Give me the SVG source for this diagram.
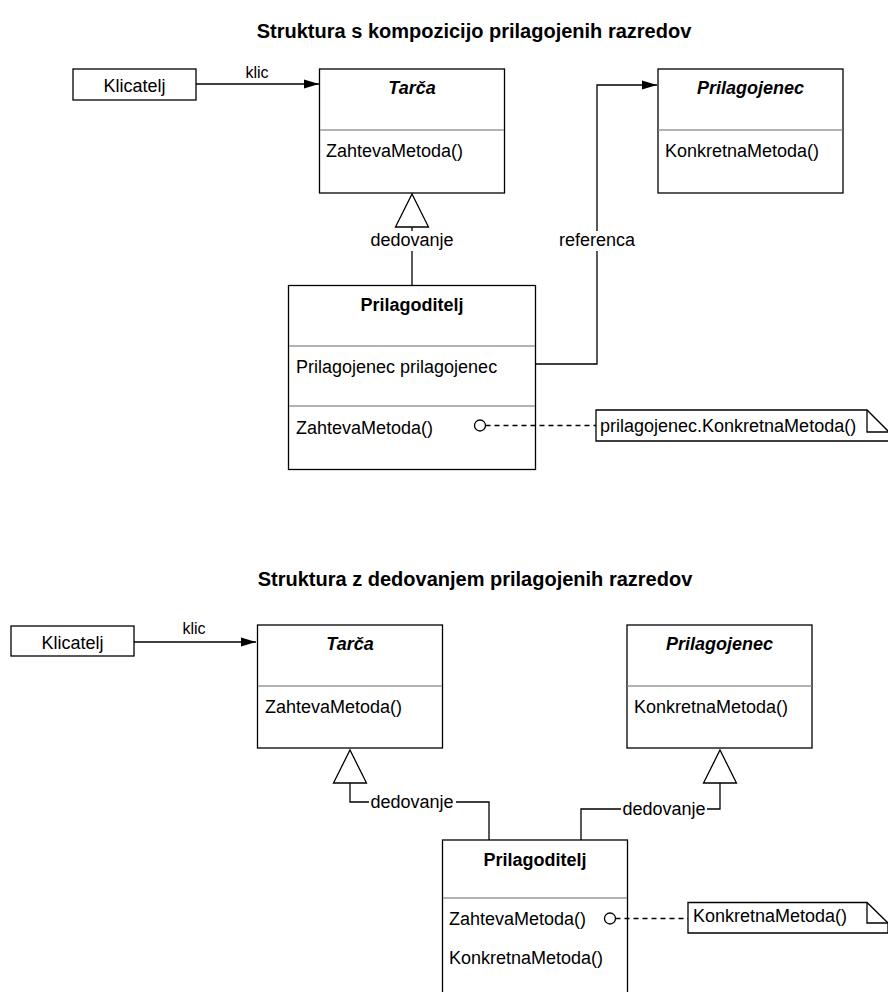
<svg xmlns="http://www.w3.org/2000/svg" width="888" height="992" viewBox="0 0 888 992">
<style>
text{font-family:"Liberation Sans",Arial,Helvetica,sans-serif;font-size:18px;fill:#000}
.t{font-weight:bold;font-size:20px}
.b{font-weight:bold}
.bi{font-weight:bold;font-style:italic}
.s{font-size:16px}
.box{fill:#fff;stroke:#000;stroke-width:1.3}
.div{stroke:#999;stroke-width:1.3}
.ln{fill:none;stroke:#000;stroke-width:1.3}
.dash{fill:none;stroke:#000;stroke-width:1.4;stroke-dasharray:5 4}
.gen{fill:#fff;stroke:#000;stroke-width:1.3}
.lbl{fill:#fff;stroke:none}
.dot{fill:#fff;stroke:#000;stroke-width:1.3}
</style>
<defs>
<marker id="arr" markerWidth="16" markerHeight="10" refX="15" refY="5" orient="auto" markerUnits="userSpaceOnUse">
<path d="M0,0.5 L15,5 L0,9.5 Z" fill="#000"/>
</marker>
</defs>
<rect width="888" height="992" fill="#fff"/>

<text class="t" x="474" y="38" text-anchor="middle">Struktura s kompozicijo prilagojenih razredov</text>
<text class="t" x="475" y="586" text-anchor="middle">Struktura z dedovanjem prilagojenih razredov</text>

<g id="klicatelj1">
<rect class="box" x="73" y="69" width="123" height="31"/>
<text x="134.5" y="92" text-anchor="middle">Klicatelj</text>
</g>
<g id="tarca1">
<rect class="box" x="319.5" y="69" width="185" height="124"/>
<line class="div" x1="320" y1="130" x2="504" y2="130"/>
<text class="bi" x="412" y="94" text-anchor="middle">Tarča</text>
<text x="326" y="157">ZahtevaMetoda()</text>
</g>
<g id="prilagojenec1">
<rect class="box" x="658" y="69" width="185" height="124"/>
<line class="div" x1="658.5" y1="130" x2="842.5" y2="130"/>
<text class="bi" x="750.5" y="94" text-anchor="middle">Prilagojenec</text>
<text x="665" y="157">KonkretnaMetoda()</text>
</g>
<g id="prilagoditelj1">
<rect class="box" x="288.5" y="285.5" width="247" height="184"/>
<line class="div" x1="289" y1="346" x2="535" y2="346"/>
<line class="div" x1="289" y1="406" x2="535" y2="406"/>
<text class="b" x="412" y="311" text-anchor="middle">Prilagoditelj</text>
<text x="296" y="373">Prilagojenec prilagojenec</text>
<text x="296" y="434">ZahtevaMetoda()</text>
</g>
<g id="note1">
<path class="box" d="M596,410 L867,410 L889,432 L889,441 L596,441 Z"/>
<path class="ln" d="M867,410 L867,432 L889,432"/>
<text x="600" y="432">prilagojenec.KonkretnaMetoda()</text>
</g>

<g id="klicatelj2">
<rect class="box" x="11" y="626" width="123" height="30"/>
<text x="72.5" y="649" text-anchor="middle">Klicatelj</text>
</g>
<g id="tarca2">
<rect class="box" x="257.5" y="625" width="185" height="123"/>
<line class="div" x1="258" y1="686" x2="442" y2="686"/>
<text class="bi" x="350" y="650" text-anchor="middle">Tarča</text>
<text x="265" y="713">ZahtevaMetoda()</text>
</g>
<g id="prilagojenec2">
<rect class="box" x="627" y="625" width="185" height="123"/>
<line class="div" x1="627.5" y1="686" x2="811.5" y2="686"/>
<text class="bi" x="719.5" y="650" text-anchor="middle">Prilagojenec</text>
<text x="634" y="713">KonkretnaMetoda()</text>
</g>
<g id="prilagoditelj2">
<rect class="box" x="442.5" y="840" width="185" height="170"/>
<line class="div" x1="443" y1="898" x2="627" y2="898"/>
<text class="b" x="535" y="866" text-anchor="middle">Prilagoditelj</text>
<text x="449" y="925">ZahtevaMetoda()</text>
<text x="449" y="964">KonkretnaMetoda()</text>
</g>
<g id="note2">
<path class="box" d="M688,902.5 L867,902.5 L888,923 L888,933 L688,933 Z"/>
<path class="ln" d="M867,902.5 L867,923 L888,923"/>
<text x="693" y="922">KonkretnaMetoda()</text>
</g>

<g id="connectors">
<path class="ln" d="M196,84 L319,84" marker-end="url(#arr)"/>
<text class="s" x="257" y="78" text-anchor="middle">klic</text>
<path class="ln" d="M412,227 L412,285"/>
<path class="gen" d="M412,194 L428.5,227 L395.5,227 Z"/>
<rect class="lbl" x="367" y="231" width="90" height="20"/>
<text x="412" y="246" text-anchor="middle">dedovanje</text>
<path class="ln" d="M536,364 L597,364 L597,85 L657,85" marker-end="url(#arr)"/>
<rect class="lbl" x="555" y="231" width="84" height="20"/>
<text x="597" y="246" text-anchor="middle">referenca</text>
<path class="dash" d="M485.5,425.5 L596,425.5"/>
<circle class="dot" cx="480" cy="425.5" r="5.5"/>
<path class="ln" d="M134,642 L256,642" marker-end="url(#arr)"/>
<text class="s" x="194" y="634" text-anchor="middle">klic</text>
<path class="ln" d="M350,783 L350,802 L489,802 L489,840"/>
<path class="gen" d="M350,750 L366.5,783 L333.5,783 Z"/>
<rect class="lbl" x="369" y="793" width="87" height="18"/>
<text x="412" y="808" text-anchor="middle">dedovanje</text>
<path class="ln" d="M720,783 L720,809 L581,809 L581,840"/>
<path class="gen" d="M720,750 L736.5,783 L703.5,783 Z"/>
<rect class="lbl" x="621" y="800" width="86" height="18"/>
<text x="664" y="815" text-anchor="middle">dedovanje</text>
<path class="dash" d="M615.5,918.5 L688,918.5"/>
<circle class="dot" cx="610" cy="918.5" r="5.5"/>
</g>
</svg>
